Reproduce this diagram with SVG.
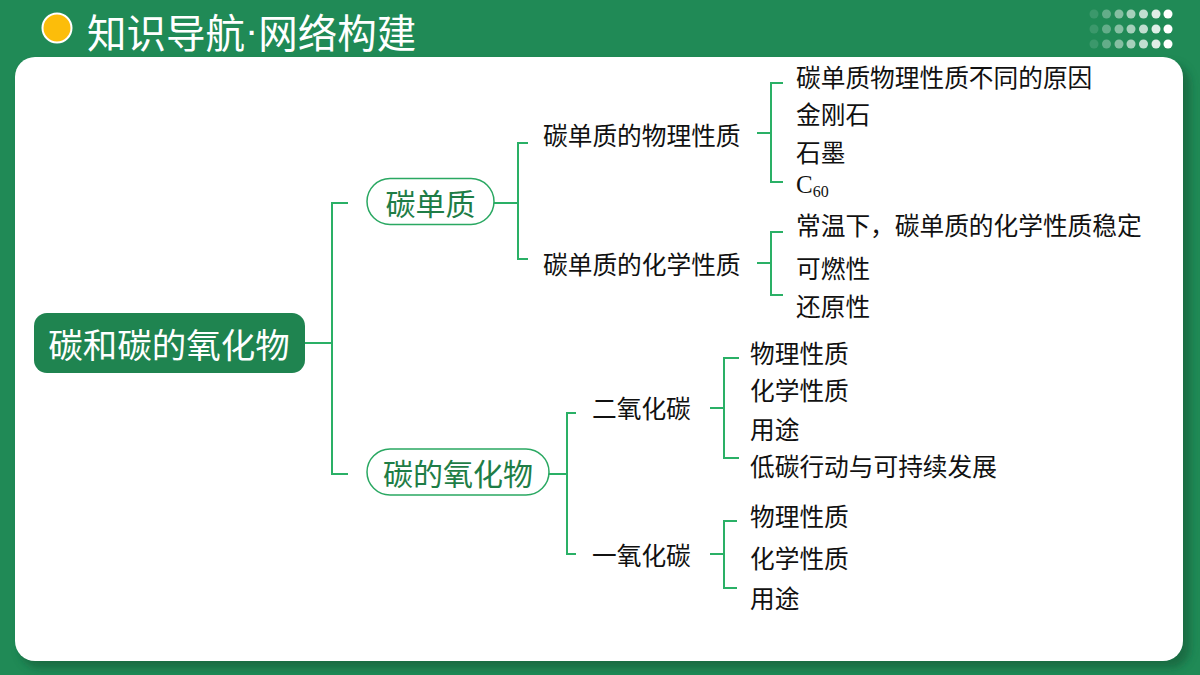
<svg xmlns="http://www.w3.org/2000/svg" width="1200" height="675" viewBox="0 0 1200 675">
<defs>
<filter id="sh" x="-5%" y="-5%" width="110%" height="115%">
<feGaussianBlur stdDeviation="4"/>
</filter>
<style>
.cjk{font-family:"Noto Sans CJK SC","Microsoft YaHei",sans-serif;}
.leaf{font-family:"Noto Sans CJK SC",sans-serif;font-size:24.7px;fill:#111;dominant-baseline:central;}
.pill{fill:#fff;stroke:#2aa862;stroke-width:1.5;}
.pilltxt{font-family:"Noto Sans CJK SC",sans-serif;font-size:30px;fill:#1e7d46;dominant-baseline:central;text-anchor:middle;}
.con{fill:none;stroke:#2ab066;stroke-width:2;}
.dot{fill:#fff;}
</style>
</defs>
<rect x="0" y="0" width="1200" height="675" fill="#208a56"/>
<!-- panel shadow and panel -->
<rect x="20" y="64" width="1170" height="604" rx="20" fill="#155f3a" opacity="0.7" filter="url(#sh)"/>
<rect x="15" y="57" width="1168" height="604" rx="20" fill="#fff"/>
<!-- title -->
<g id="title">
<circle cx="57" cy="28" r="14.5" fill="#fcbd0a" stroke="#fff" stroke-width="2"/>
<text x="87" y="30" class="cjk" font-size="39.5" fill="#fff" dominant-baseline="central">知识导航<tspan font-family="Liberation Sans, sans-serif">·</tspan>网络构建</text>
</g>
<!-- decorative dots -->
<g id="dots">
<g opacity="0.12"><circle cx="1094" cy="14" r="4.5" class="dot"/><circle cx="1094" cy="29" r="4.5" class="dot"/><circle cx="1094" cy="44" r="4.5" class="dot"/></g>
<g opacity="0.3"><circle cx="1106.5" cy="14" r="4.5" class="dot"/><circle cx="1106.5" cy="29" r="4.5" class="dot"/><circle cx="1106.5" cy="44" r="4.5" class="dot"/></g>
<g opacity="0.45"><circle cx="1119" cy="14" r="4.5" class="dot"/><circle cx="1119" cy="29" r="4.5" class="dot"/><circle cx="1119" cy="44" r="4.5" class="dot"/></g>
<g opacity="0.6"><circle cx="1131" cy="14" r="4.5" class="dot"/><circle cx="1131" cy="29" r="4.5" class="dot"/><circle cx="1131" cy="44" r="4.5" class="dot"/></g>
<g opacity="0.72"><circle cx="1143.5" cy="14" r="4.5" class="dot"/><circle cx="1143.5" cy="29" r="4.5" class="dot"/><circle cx="1143.5" cy="44" r="4.5" class="dot"/></g>
<g opacity="0.86"><circle cx="1156" cy="14" r="4.5" class="dot"/><circle cx="1156" cy="29" r="4.5" class="dot"/><circle cx="1156" cy="44" r="4.5" class="dot"/></g>
<g opacity="1"><circle cx="1168" cy="14" r="4.5" class="dot"/><circle cx="1168" cy="29" r="4.5" class="dot"/><circle cx="1168" cy="44" r="4.5" class="dot"/></g>
</g>
<!-- connectors -->
<g id="connectors">
<path class="con" d="M305 343 H332 M348 203 H332 V474 H348"/>
<path class="con" d="M494 203 H518 M528 143 H518 V259 H528"/>
<path class="con" d="M549 474 H567 M576 413 H567 V554 H576"/>
<path class="con" d="M757 133 H771 M783 83 H771 V182 H783"/>
<path class="con" d="M757 263 H771 M783 232 H771 V295 H783"/>
<path class="con" d="M710 408 H724 M739 358 H724 V458 H739"/>
<path class="con" d="M710 554 H724 M737 521 H724 V588 H737"/>
</g>
<!-- root -->
<g id="root">
<rect x="34" y="313" width="271" height="60" rx="13" fill="#1f8450"/>
<text x="169" y="343" class="cjk" font-size="34.5" fill="#fff" text-anchor="middle" dominant-baseline="central">碳和碳的氧化物</text>
</g>
<g id="n-tandanzhi">
<rect x="367" y="178.5" width="127" height="46" rx="23" class="pill"/>
<text x="430.5" y="202" class="pilltxt">碳单质</text>
</g>
<g id="n-yanghuawu">
<rect x="367" y="449" width="182" height="46" rx="23" class="pill"/>
<text x="458" y="472" class="pilltxt">碳的氧化物</text>
</g>
<g id="n-wuli"><text x="543" y="134" class="leaf">碳单质的物理性质</text></g>
<g id="n-huaxue"><text x="543" y="263" class="leaf">碳单质的化学性质</text></g>
<g id="n-co2"><text x="592" y="407" class="leaf">二氧化碳</text></g>
<g id="n-co"><text x="592" y="554" class="leaf">一氧化碳</text></g>
<g id="l1"><text x="796" y="76" class="leaf">碳单质物理性质不同的原因</text></g>
<g id="l2"><text x="796" y="113" class="leaf">金刚石</text></g>
<g id="l3"><text x="796" y="151" class="leaf">石墨</text></g>
<g id="l4"><text x="796" y="193" font-family="Liberation Serif,serif" font-size="25" fill="#111">C<tspan font-size="16" dy="4">60</tspan></text></g>
<g id="l5"><text x="796" y="224" class="leaf">常温下，碳单质的化学性质稳定</text></g>
<g id="l6"><text x="796" y="267" class="leaf">可燃性</text></g>
<g id="l7"><text x="796" y="305" class="leaf">还原性</text></g>
<g id="l8"><text x="750" y="352" class="leaf">物理性质</text></g>
<g id="l9"><text x="750" y="389" class="leaf">化学性质</text></g>
<g id="l10"><text x="750" y="428" class="leaf">用途</text></g>
<g id="l11"><text x="750" y="465" class="leaf">低碳行动与可持续发展</text></g>
<g id="l12"><text x="750" y="515" class="leaf">物理性质</text></g>
<g id="l13"><text x="750" y="557" class="leaf">化学性质</text></g>
<g id="l14"><text x="750" y="597" class="leaf">用途</text></g>
</svg>
